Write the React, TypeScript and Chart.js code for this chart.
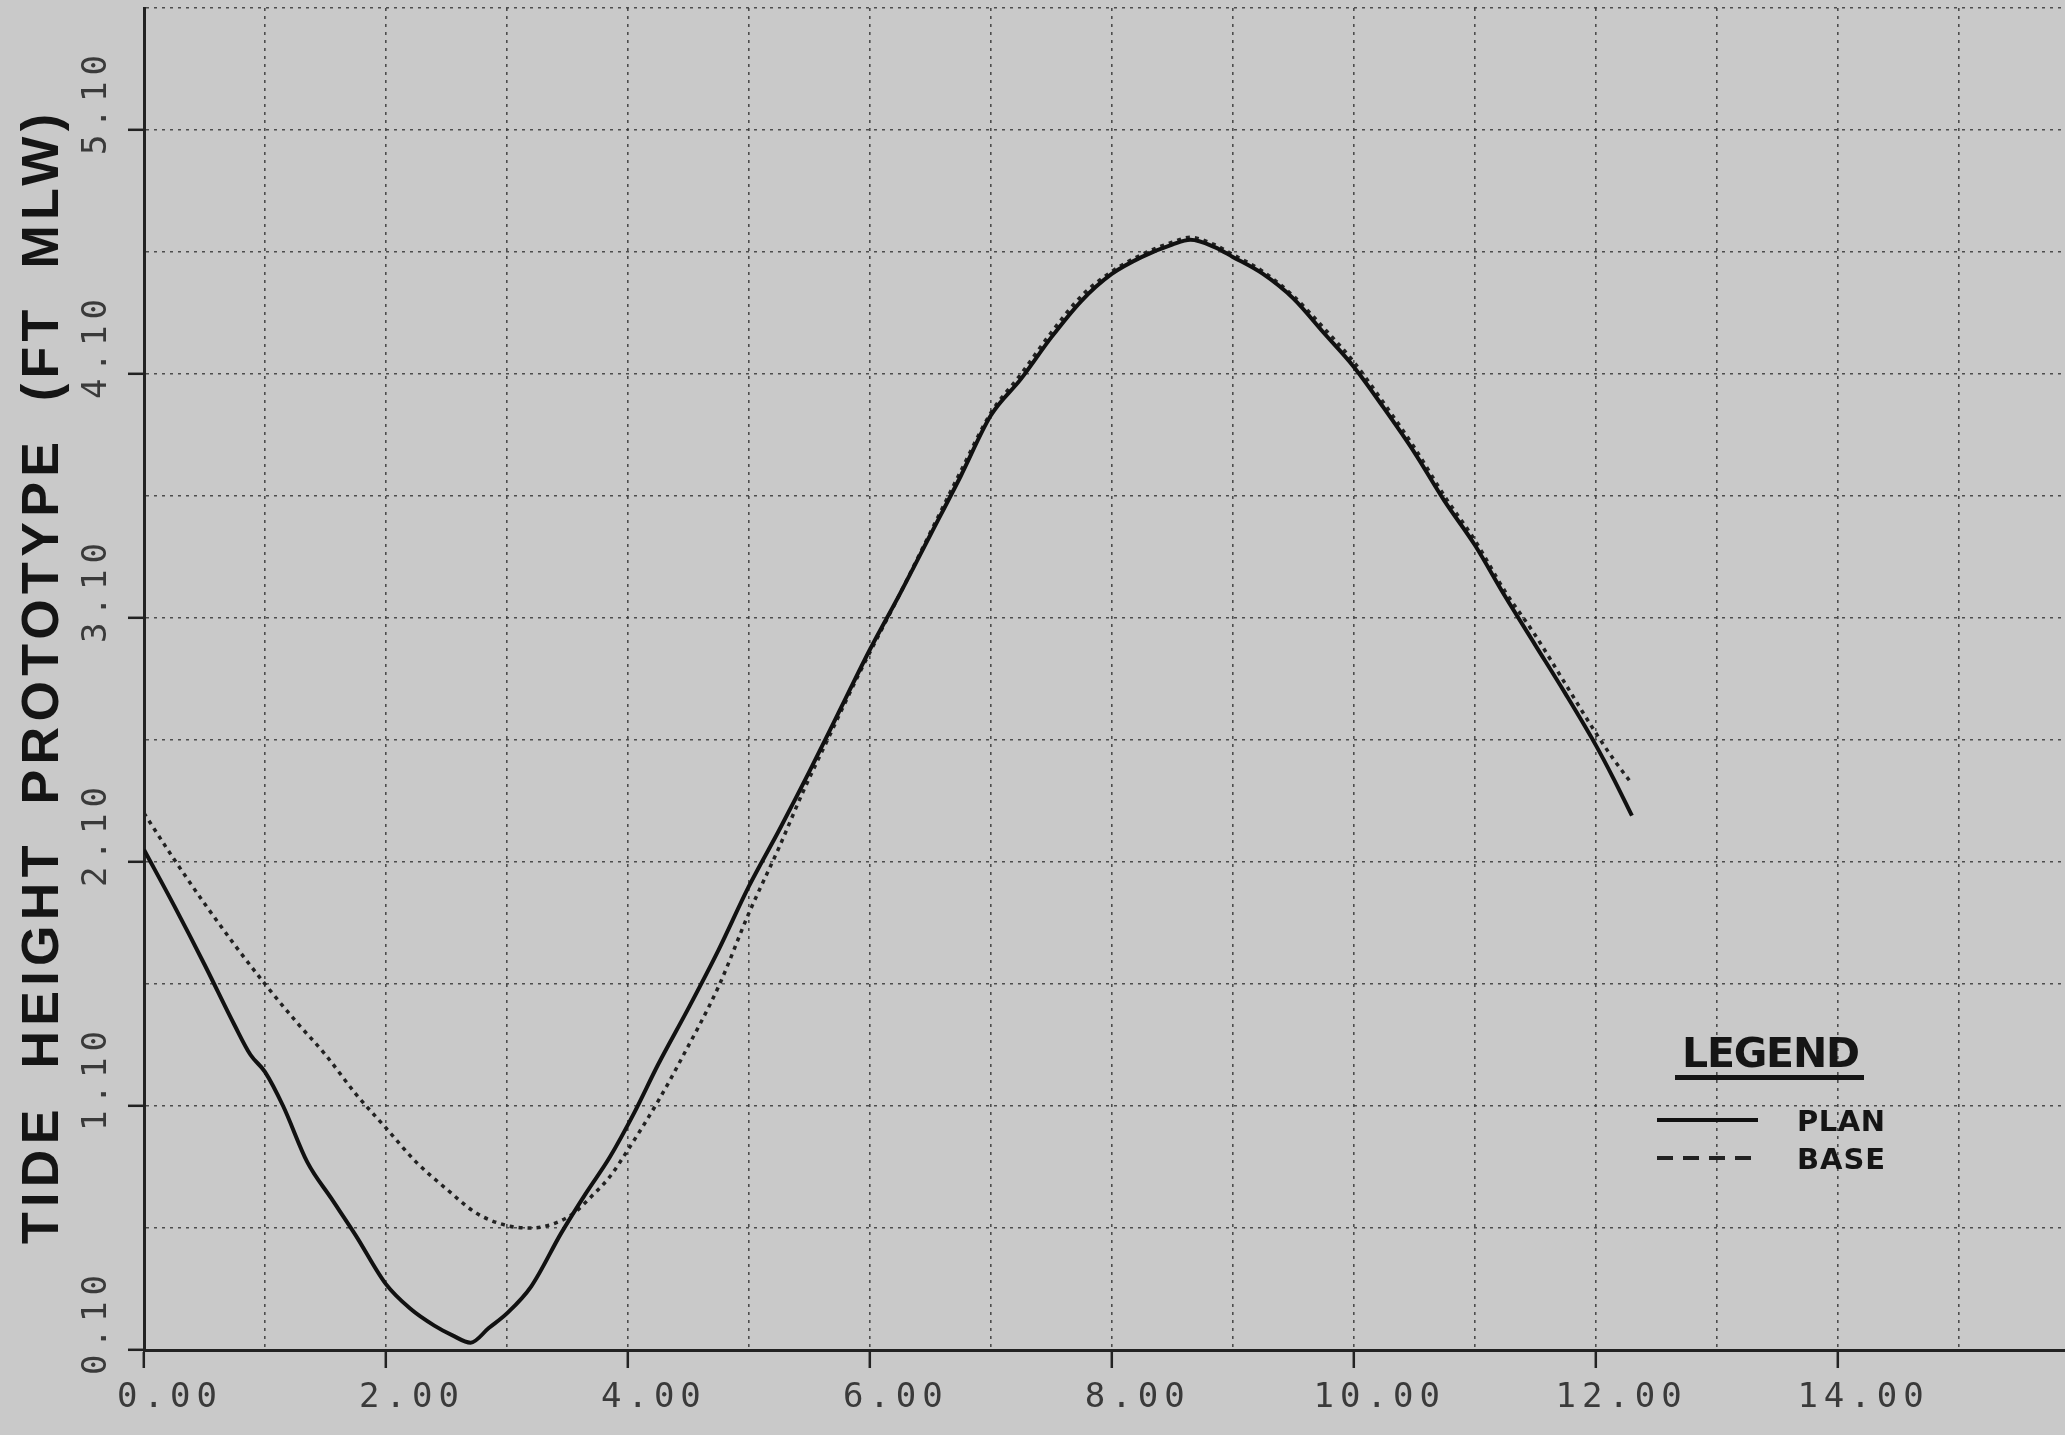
import React, { useEffect, useRef } from "react";
import { Chart, registerables } from "chart.js";

Chart.register(...registerables);

// ---------- data ----------
const planX = [0, 0.25, 0.5, 0.75, 0.88, 1.0, 1.15, 1.35, 1.55, 1.75, 2.0, 2.2, 2.4, 2.55, 2.7, 2.85, 3.0, 3.2, 3.45, 3.65, 3.85, 4.05, 4.25, 4.5, 4.75, 5.0, 5.25, 5.5, 5.75, 6.0, 6.25, 6.5, 6.75, 7.0, 7.25, 7.5, 7.75, 8.0, 8.25, 8.5, 8.65, 8.85, 9.0, 9.25, 9.5, 9.75, 10.0, 10.25, 10.5, 10.75, 11.0, 11.25, 11.5, 11.75, 12.0, 12.15, 12.3];
const planY = [2.15, 1.92, 1.68, 1.43, 1.31, 1.24, 1.10, 0.87, 0.72, 0.57, 0.37, 0.27, 0.20, 0.16, 0.13, 0.19, 0.25, 0.36, 0.58, 0.74, 0.89, 1.07, 1.27, 1.50, 1.74, 2.00, 2.23, 2.47, 2.72, 2.97, 3.20, 3.44, 3.68, 3.93, 4.08, 4.25, 4.40, 4.51, 4.58, 4.63, 4.65, 4.62, 4.58, 4.51, 4.41, 4.27, 4.13, 3.96, 3.78, 3.58, 3.40, 3.19, 2.99, 2.79, 2.58, 2.44, 2.29];

const baseX = [0, 0.25, 0.5, 0.75, 1.0, 1.25, 1.5, 1.75, 2.0, 2.25, 2.5, 2.75, 3.0, 3.2, 3.4, 3.55, 3.7, 3.85, 4.0, 4.25, 4.45, 4.75, 5.0, 5.25, 5.45, 5.65, 5.9, 6.25, 6.5, 6.75, 7.0, 7.25, 7.5, 7.75, 8.0, 8.25, 8.5, 8.65, 8.85, 9.0, 9.25, 9.5, 9.75, 10.0, 10.25, 10.5, 10.75, 11.0, 11.25, 11.5, 11.75, 12.0, 12.15, 12.3];
const baseY = [2.30, 2.11, 1.93, 1.76, 1.60, 1.45, 1.31, 1.15, 1.01, 0.87, 0.76, 0.66, 0.61, 0.60, 0.62, 0.66, 0.73, 0.81, 0.92, 1.12, 1.30, 1.59, 1.89, 2.16, 2.39, 2.60, 2.86, 3.20, 3.45, 3.70, 3.94, 4.10, 4.27, 4.42, 4.52, 4.59, 4.64, 4.66, 4.63, 4.59, 4.52, 4.42, 4.29, 4.15, 3.98, 3.80, 3.60, 3.42, 3.21, 3.03, 2.83, 2.63, 2.52, 2.42];

const seriesNames = ["PLAN", "BASE"];
const legendTitle = "LEGEND";
const yTitle = "TIDE HEIGHT PROTOTYPE (FT MLW)";

const xTickValues = [0, 1, 2, 3, 4, 5, 6, 7, 8, 9, 10, 11, 12, 13, 14, 15];
const xLabelValues = [0, 2, 4, 6, 8, 10, 12, 14];
const yTickValues = [0.1, 0.6, 1.1, 1.6, 2.1, 2.6, 3.1, 3.6, 4.1, 4.6, 5.1, 5.6];
const yLabelValues = [0.1, 1.1, 2.1, 3.1, 4.1, 5.1];

const X_MIN = 0;
const X_MAX = 15.88;
const Y_MIN = 0.1;
const Y_MAX = 5.6;

// ---------- layout / style ----------
const W = 2065;
const H = 1435;
const BG = "#c9c9c9";
const INK = "#151515";
const LABEL_INK = "#3a3a3a";
const GRID = "rgba(55,55,55,0.85)";

const isIn = (arr: number[], v: number) => arr.some((a) => Math.abs(a - v) < 1e-6);

function fitText(ctx: CanvasRenderingContext2D, text: string, x: number, y: number, width: number) {
  (ctx as any).letterSpacing = "0px";
  const w0 = ctx.measureText(text).width;
  const n = Math.max(1, text.length - 1);
  const sp = (width - w0) / n;
  (ctx as any).letterSpacing = sp + "px";
  ctx.fillText(text, x, y);
  (ctx as any).letterSpacing = "0px";
}

const bgPlugin = {
  id: "bgPaper",
  beforeDraw(chart: any) {
    const ctx = chart.ctx;
    ctx.save();
    ctx.fillStyle = BG;
    ctx.fillRect(0, 0, chart.width, chart.height);
    ctx.restore();
  },
};

const textPlugin = {
  id: "plotterText",
  afterDraw(chart: any) {
    const ctx: CanvasRenderingContext2D = chart.ctx;
    const xs = chart.scales.x;
    const ys = chart.scales.y;
    ctx.save();

    // x tick labels
    ctx.fillStyle = LABEL_INK;
    ctx.font = "34px 'DejaVu Sans Mono'";
    ctx.textAlign = "center";
    ctx.textBaseline = "middle";
    (ctx as any).letterSpacing = "6px";
    xLabelValues.forEach((v) => {
      ctx.fillText(v.toFixed(2), xs.getPixelForValue(v) + 26, xs.top + 48);
    });

    // y tick labels (rotated)
    yLabelValues.forEach((v) => {
      const py = ys.getPixelForValue(v);
      ctx.save();
      ctx.translate(ys.right - 47, py - 28);
      ctx.rotate(-Math.PI / 2);
      ctx.fillText(v.toFixed(2), 0, 0);
      ctx.restore();
    });
    (ctx as any).letterSpacing = "0px";

    // y title
    ctx.fillStyle = INK;
    ctx.font = "bold 52px 'Liberation Sans'";
    ctx.textAlign = "left";
    ctx.textBaseline = "middle";
    ctx.save();
    ctx.translate(44, 1244);
    ctx.rotate(-Math.PI / 2);
    (ctx as any).wordSpacing = "16px";
    fitText(ctx, yTitle, 0, 0, 1130);
    (ctx as any).wordSpacing = "0px";
    ctx.restore();

    // legend
    const datasets = chart.data.datasets;
    ctx.fillStyle = INK;
    ctx.font = "bold 41px 'DejaVu Sans'";
    ctx.textBaseline = "alphabetic";
    fitText(ctx, legendTitle, 1682, 1067, 178);
    ctx.fillRect(1675, 1075, 189, 5);

    const rows = [1120, 1158];
    ctx.font = "bold 29px 'DejaVu Sans'";
    datasets.forEach((ds: any, i: number) => {
      const y = rows[i];
      ctx.save();
      ctx.strokeStyle = ds.borderColor;
      ctx.lineWidth = 4;
      ctx.setLineDash(i === 0 ? [] : [16, 10]);
      ctx.beginPath();
      ctx.moveTo(1657, y);
      ctx.lineTo(1758, y);
      ctx.stroke();
      ctx.restore();
      ctx.fillStyle = INK;
      fitText(ctx, ds.label, 1797, y + 11, 88);
    });

    ctx.restore();
  },
};

export default function App() {
  const ref = useRef<HTMLCanvasElement | null>(null);

  useEffect(() => {
    if (!ref.current) return;
    const planData = planX.map((x, i) => ({ x, y: planY[i] }));
    const baseData = baseX.map((x, i) => ({ x, y: baseY[i] }));

    const chart = new Chart(ref.current, {
      type: "line",
      data: {
        datasets: [
          {
            label: seriesNames[0],
            data: planData,
            borderColor: "#111111",
            borderWidth: 4,
            pointRadius: 0,
            cubicInterpolationMode: "monotone",
            fill: false,
          },
          {
            label: seriesNames[1],
            data: baseData,
            borderColor: "#222222",
            borderWidth: 3.5,
            borderDash: [4, 5],
            pointRadius: 0,
            cubicInterpolationMode: "monotone",
            fill: false,
          },
        ],
      },
      options: {
        animation: false,
        responsive: false,
        devicePixelRatio: 1,
        layout: { padding: { top: 8, right: 0, bottom: 0, left: 0 } },
        plugins: {
          legend: { display: false },
          tooltip: { enabled: false },
        },
        scales: {
          x: {
            type: "linear",
            min: X_MIN,
            max: X_MAX,
            afterBuildTicks: (scale: any) => {
              scale.ticks = xTickValues.map((v) => ({ value: v }));
            },
            afterFit: (scale: any) => {
              scale.height = H - 1350;
            },
            ticks: { display: false },
            grid: {
              color: GRID,
              lineWidth: 1.6,
              drawTicks: true,
              tickLength: 18,
              tickWidth: 2.5,
              tickBorderDash: [],
              tickColor: (c: any) => (c.tick && isIn(xLabelValues, c.tick.value) ? "#222" : "transparent"),
            },
            border: { display: true, color: "#222", width: 3, dash: [3, 5] },
          },
          y: {
            type: "linear",
            min: Y_MIN,
            max: Y_MAX,
            afterBuildTicks: (scale: any) => {
              scale.ticks = yTickValues.map((v) => ({ value: v }));
            },
            afterFit: (scale: any) => {
              scale.width = 144;
            },
            ticks: { display: false },
            grid: {
              color: GRID,
              lineWidth: 1.6,
              drawTicks: true,
              tickLength: 16,
              tickWidth: 2.5,
              tickBorderDash: [],
              tickColor: (c: any) => (c.tick && isIn(yLabelValues, c.tick.value) ? "#222" : "transparent"),
            },
            border: { display: true, color: "#222", width: 3, dash: [3, 5] },
          },
        },
      },
      plugins: [bgPlugin, textPlugin],
    } as any);

    return () => chart.destroy();
  }, []);

  return (
    <div style={{ position: "fixed", left: 0, top: 0, width: W, height: H, background: BG }}>
      <canvas ref={ref} width={W} height={H} style={{ display: "block", width: W, height: H }} />
    </div>
  );
}
